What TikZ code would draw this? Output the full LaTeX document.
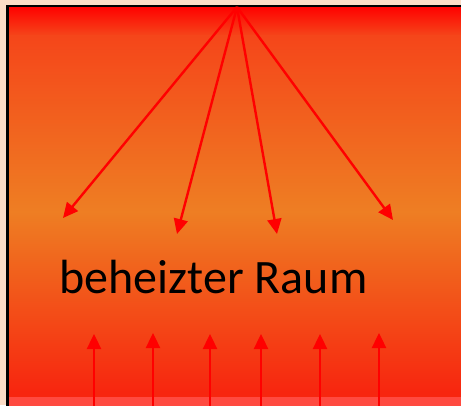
\documentclass[tikz,border=0pt]{standalone}
\usepackage{fontspec}
\setmainfont{Carlito}
\usetikzlibrary{arrows.meta}
\definecolor{rand}{HTML}{FBDCC6}
\definecolor{heissrot}{HTML}{FF0000}
\definecolor{warmrot}{HTML}{F5461A}
\definecolor{warmorange}{HTML}{EE7E23}
\definecolor{bodenrot}{HTML}{F7260F}
\definecolor{bodenhell}{HTML}{FF4A40}
\newcommand{\waermepfeil}[2]{   % x-Position, Spitze
	\coordinate (fuss#1) at (#1, 410);
	\coordinate (kopf#1) at (#1, #2);
	\draw[strahl] (fuss#1) -- (kopf#1);
}

\begin{document}
\begin{tikzpicture}[x=1pt, y=-1pt,
	strahl/.style={red, line width=2.4pt, -{Triangle[length=15pt, width=14pt]}}]
\useasboundingbox (0,0) rectangle (461,405);
\clip (0,0) rectangle (461,405);
\fill[rand] (0,0) rectangle (461,405);

% Farbverlauf im Raum
\shade[top color=heissrot, bottom color=warmrot] (7,6) rectangle (465,36);
\shade[top color=warmrot, bottom color=warmorange] (7,35.5) rectangle (465,212);
\shade[top color=warmorange, bottom color=bodenrot] (7,211.5) rectangle (465,392);
\fill[bodenrot] (7,391.5) rectangle (465,397);
\fill[bodenhell] (7,397) rectangle (465,410);

\draw[line width=2.6pt] (7.5,410) -- (7.5,6) -- (465,6);

\node[anchor=base, inner sep=0pt, font=\fontsize{48}{52}\selectfont] (raum) at (213.5,293) {beheizter Raum};

\coordinate (quelle) at (237,7);
\coordinate (ziel1) at (63,218);
\coordinate (ziel2) at (177,234);
\coordinate (ziel3) at (277,234);
\coordinate (ziel4) at (393,220);
\foreach \z in {1,...,4}
	\draw[strahl] (quelle) -- (ziel\z);

\waermepfeil{94}{334};
\waermepfeil{153}{333};
\waermepfeil{210}{334};
\waermepfeil{261}{334};
\waermepfeil{320}{334};
\waermepfeil{379}{333};
\end{tikzpicture}
\end{document}
